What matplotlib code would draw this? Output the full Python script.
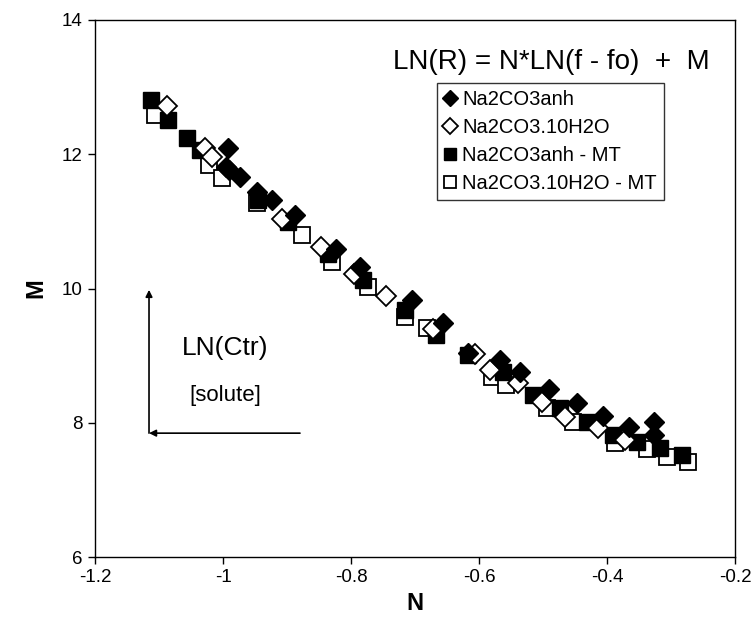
import matplotlib
matplotlib.use("Agg")
import matplotlib.pyplot as plt

plt.rcParams['font.family'] = ['Liberation Sans', 'DejaVu Sans']

# Na2CO3anh (filled diamonds)
anh_x = [-0.992, -0.990, -0.995, -0.973, -0.947, -0.923, -0.8875, -0.823, -0.786, -0.705,
         -0.656, -0.617, -0.567, -0.536, -0.491, -0.447, -0.406, -0.366, -0.327, -0.327]
anh_y = [12.09, 11.76, 11.81, 11.66, 11.44, 11.32, 11.09, 10.59, 10.32, 9.83,
         9.48, 9.04, 8.93, 8.75, 8.50, 8.29, 8.10, 7.93, 8.01, 7.82]

# Na2CO3.10H2O (open diamonds)
hyd_x = [-1.0875, -1.028, -1.017, -0.908, -0.847, -0.795, -0.745, -0.672, -0.606,
         -0.583, -0.539, -0.502, -0.466, -0.414, -0.372]
hyd_y = [12.72, 12.09, 11.96, 11.03, 10.62, 10.21, 9.89, 9.40, 9.02,
         8.78, 8.59, 8.31, 8.08, 7.92, 7.74]

# Na2CO3anh - MT (filled squares)
anh_mt_x = [-1.1125, -1.086, -1.056, -1.036, -0.945, -0.898, -0.836, -0.781, -0.716,
            -0.667, -0.617, -0.5625, -0.516, -0.473, -0.431, -0.391, -0.353, -0.317, -0.283]
anh_mt_y = [12.81, 12.51, 12.24, 12.06, 11.32, 10.99, 10.51, 10.12, 9.68,
            9.31, 9.01, 8.75, 8.41, 8.22, 8.01, 7.82, 7.71, 7.62, 7.52]

# Na2CO3.10H2O - MT (open squares)
hyd_mt_x = [-1.106, -1.022, -1.002, -0.947, -0.877, -0.830, -0.773, -0.716, -0.681,
            -0.580, -0.558, -0.494, -0.453, -0.3875, -0.3375, -0.306, -0.273]
hyd_mt_y = [12.58, 11.84, 11.65, 11.27, 10.80, 10.39, 10.02, 9.58, 9.41,
            8.68, 8.56, 8.22, 8.01, 7.70, 7.61, 7.49, 7.41]

x_ticks = [-1.2, -1.0, -0.8, -0.6, -0.4, -0.2]
x_ticklabels = ['-1.2', '-1', '-0.8', '-0.6', '-0.4', '-0.2']
y_ticks = [6, 8, 10, 12, 14]

fig = plt.figure(figsize=(7.51, 6.28), dpi=100)
ax = fig.add_axes([95/751, 1-557/628, 640/751, 537/628])

ax.plot(hyd_mt_x, hyd_mt_y, ls='none', marker='s', ms=11, mfc='white', mec='black', mew=1.3,
        label='Na2CO3.10H2O - MT', zorder=3)
ax.plot(anh_mt_x, anh_mt_y, ls='none', marker='s', ms=11, mfc='black', mec='black', mew=1.0,
        label='Na2CO3anh - MT', zorder=4)
ax.plot(hyd_x, hyd_y, ls='none', marker='D', ms=10, mfc='white', mec='black', mew=1.3,
        label='Na2CO3.10H2O', zorder=5)
ax.plot(anh_x, anh_y, ls='none', marker='D', ms=10, mfc='black', mec='black', mew=1.0,
        label='Na2CO3anh', zorder=6)

ax.set_xlim(-1.2, -0.2)
ax.set_ylim(6, 14)
ax.set_xticks(x_ticks)
ax.set_xticklabels(x_ticklabels)
ax.set_yticks(y_ticks)
ax.tick_params(direction='out', length=5, width=1, labelsize=13.5, pad=4)
for s in ax.spines.values():
    s.set_linewidth(1.0)

ax.set_xlabel('N', fontsize=17, fontweight='bold', labelpad=4)
ax.set_ylabel('M', fontsize=17, fontweight='bold', labelpad=10)

handles, labels = ax.get_legend_handles_labels()
order = [3, 2, 1, 0]
leg = ax.legend([handles[i] for i in order], [labels[i] for i in order],
                loc='upper left', bbox_to_anchor=((437-95)/640, (557-83)/537),
                fontsize=14.5, frameon=True, fancybox=False, edgecolor='black',
                handlelength=0.6, handletextpad=0.3, borderpad=0.35, labelspacing=0.45,
                markerscale=0.85, borderaxespad=0)
leg.get_frame().set_linewidth(1.0)

ax.text(-0.4875, 13.37, 'LN(R) = N*LN(f - fo)  +  M', fontsize=20, ha='center', va='center')

ax.annotate('', xy=(-1.1156, 9.98), xytext=(-1.1156, 7.845),
            arrowprops=dict(arrowstyle='-|>', color='black', lw=1.2, mutation_scale=10,
                            shrinkA=0, shrinkB=0))
ax.annotate('', xy=(-1.1156, 7.845), xytext=(-0.8797, 7.845),
            arrowprops=dict(arrowstyle='-|>', color='black', lw=1.2, mutation_scale=10,
                            shrinkA=0, shrinkB=0))
ax.text(-0.997, 9.11, 'LN(Ctr)', fontsize=19, ha='center', va='center')
ax.text(-0.997, 8.41, '[solute]', fontsize=16, ha='center', va='center')

fig.savefig('out.png', dpi=100)
